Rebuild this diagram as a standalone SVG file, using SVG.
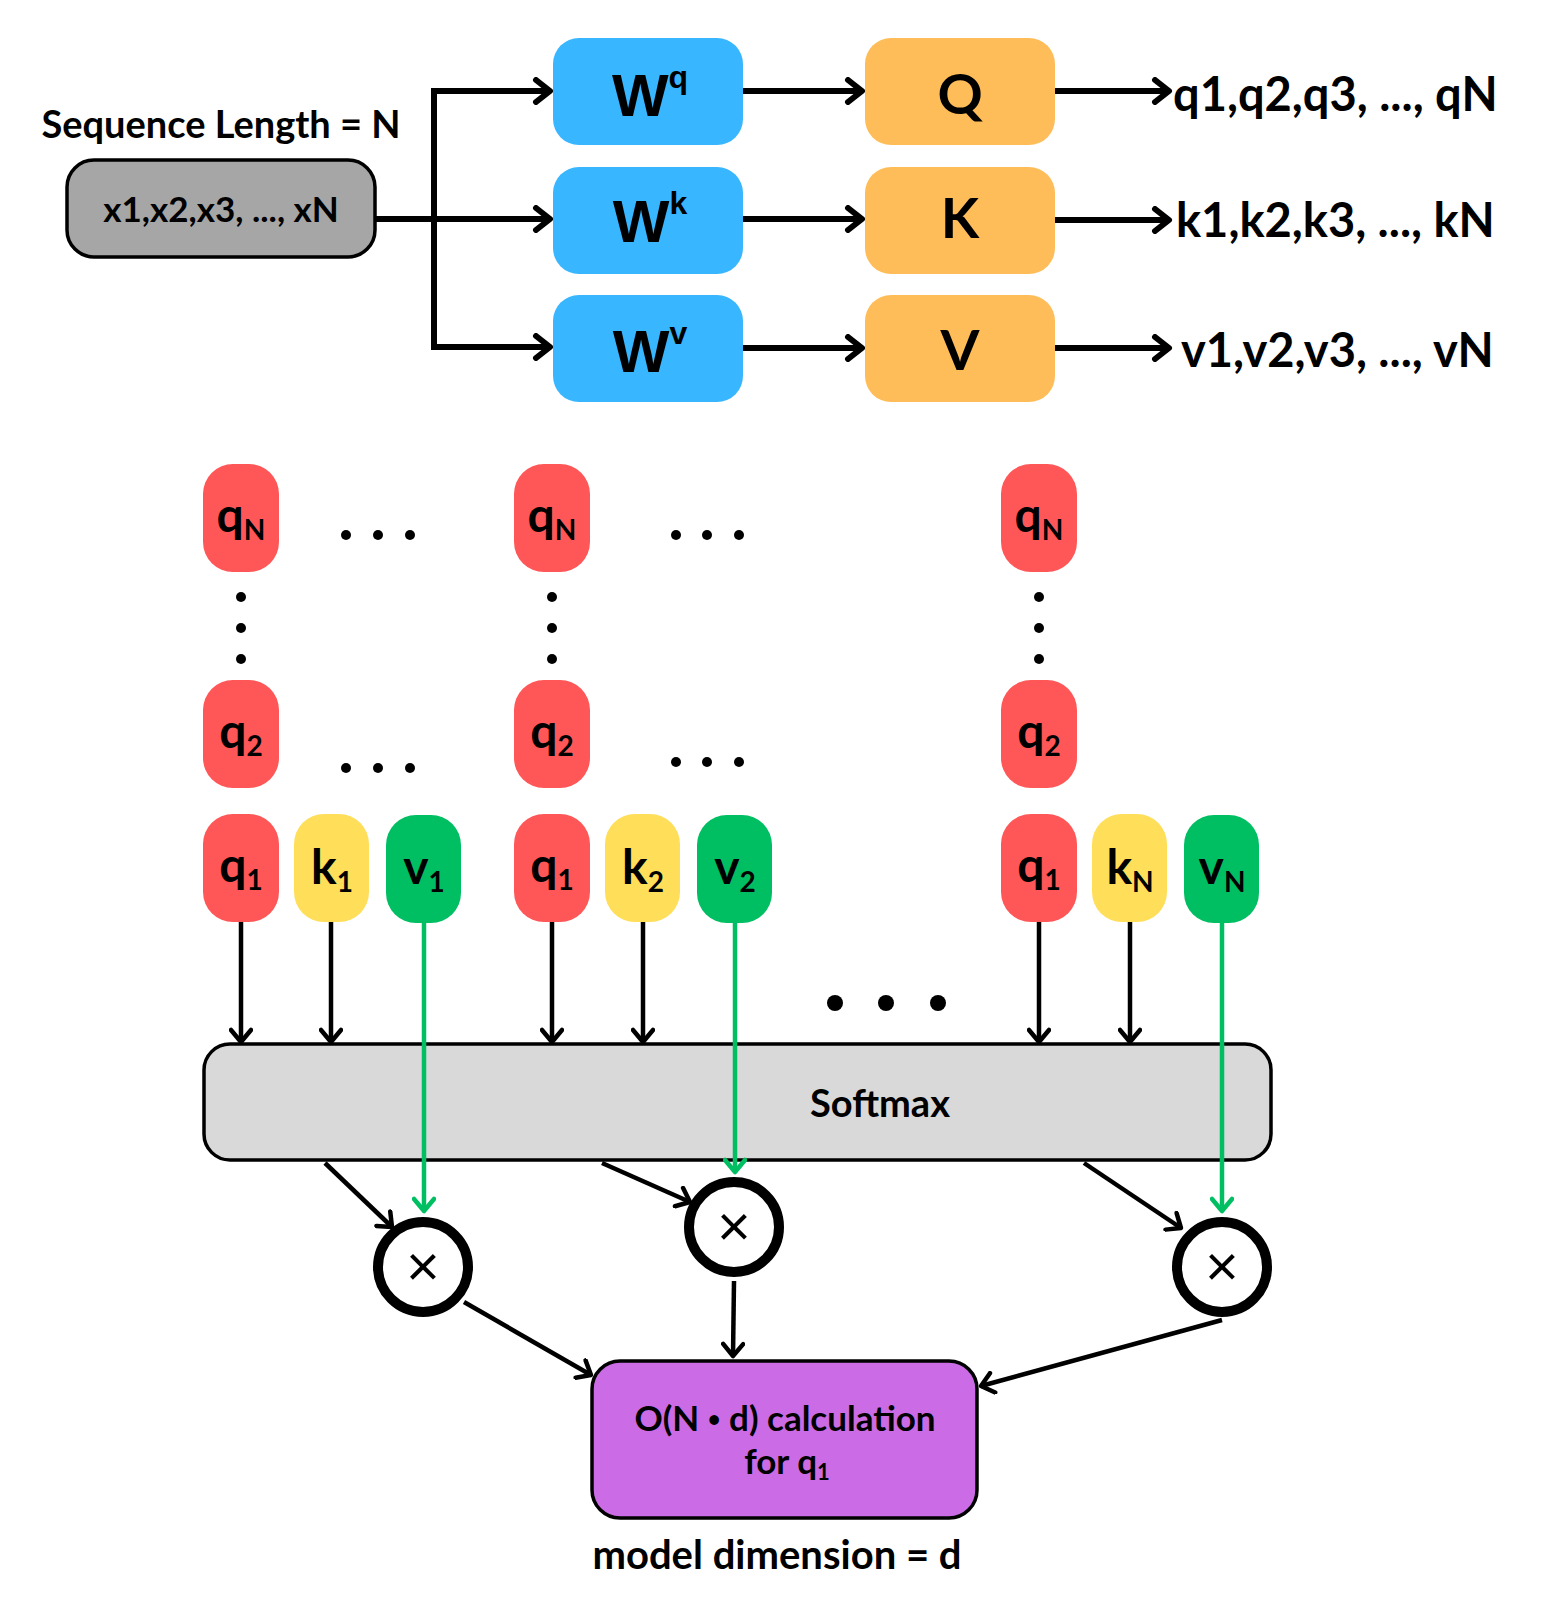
<svg xmlns="http://www.w3.org/2000/svg" width="1549" height="1614" viewBox="0 0 1549 1614">
<style>
text{font-family:"Lato","Noto Sans",sans-serif;font-weight:bold;fill:#000}
.w{font-family:"Liberation Sans",Arial,sans-serif;font-size:60px}
.big{font-family:"Lato",sans-serif;font-size:56px}
.out{font-size:47px}
.pl{font-size:48px}
.sub{font-size:28px}
.mul{font-family:"Liberation Sans",Arial,sans-serif;font-weight:normal;font-size:58px}
.conn{fill:none;stroke:#000;stroke-width:4.5}
.top{fill:none;stroke:#000;stroke-width:6}
.gr{fill:none;stroke:#00bf63;stroke-width:4.5}
.blue{fill:#38b6ff}
.org{fill:#ffbd59}
.red{fill:#ff5757}
.yel{fill:#ffde59}
.grn{fill:#00bf63}
.dot{fill:#000}
.circ{fill:#fff;stroke:#000;stroke-width:10}
</style>
<defs>
<marker id="ahT" viewBox="-20 -14 24 28" refX="0" refY="0" markerWidth="24" markerHeight="28" markerUnits="userSpaceOnUse" orient="auto">
<path d="M-14 -11 L0 0 L-14 11" fill="none" stroke="#000" stroke-width="6" stroke-linecap="round" stroke-linejoin="round"/>
</marker>
<marker id="ah" viewBox="-15 -12 18 24" refX="0" refY="0" markerWidth="18" markerHeight="24" markerUnits="userSpaceOnUse" orient="auto">
<path d="M-12 -10 L0 0 L-12 10" fill="none" stroke="#000" stroke-width="4.5" stroke-linecap="round" stroke-linejoin="round"/>
</marker>
<marker id="ahg" viewBox="-15 -12 18 24" refX="0" refY="0" markerWidth="18" markerHeight="24" markerUnits="userSpaceOnUse" orient="auto">
<path d="M-12 -10 L0 0 L-12 10" fill="none" stroke="#00bf63" stroke-width="4.5" stroke-linecap="round" stroke-linejoin="round"/>
</marker>
</defs>
<rect width="1549" height="1614" fill="#fff"/>

<g id="connectors">
<path class="top" d="M375 219 H550" marker-end="url(#ahT)"/>
<path class="top" d="M434 219 V91 H550" marker-end="url(#ahT)"/>
<path class="top" d="M434 219 V347 H550" marker-end="url(#ahT)"/>
<path class="top" d="M743 91 H862" marker-end="url(#ahT)"/>
<path class="top" d="M743 219 H862" marker-end="url(#ahT)"/>
<path class="top" d="M743 348 H862" marker-end="url(#ahT)"/>
<path class="top" d="M1055 91 H1169" marker-end="url(#ahT)"/>
<path class="top" d="M1055 220 H1169" marker-end="url(#ahT)"/>
<path class="top" d="M1055 348 H1169" marker-end="url(#ahT)"/>

<path class="conn" d="M241 922 V1042" marker-end="url(#ah)"/>
<path class="conn" d="M331 922 V1042" marker-end="url(#ah)"/>
<path class="conn" d="M552 922 V1042" marker-end="url(#ah)"/>
<path class="conn" d="M643 922 V1042" marker-end="url(#ah)"/>
<path class="conn" d="M1039 922 V1042" marker-end="url(#ah)"/>
<path class="conn" d="M1130 922 V1042" marker-end="url(#ah)"/>

<path class="conn" d="M325 1163 L392 1227" marker-end="url(#ah)"/>
<path class="conn" d="M602 1163 L690 1202" marker-end="url(#ah)"/>
<path class="conn" d="M1084 1163 L1181 1228" marker-end="url(#ah)"/>

<path class="conn" d="M464 1302 L591 1375" marker-end="url(#ah)"/>
<path class="conn" d="M734 1281 L733 1356" marker-end="url(#ah)"/>
<path class="conn" d="M1222 1320 L981 1386" marker-end="url(#ah)"/>
</g>

<g id="seq-label"><text x="221" y="138" font-size="38" text-anchor="middle">Sequence Length = N</text></g>
<g id="input">
<rect x="67" y="160" width="308" height="97" rx="27" fill="#a6a6a6" stroke="#000" stroke-width="3.5"/>
<text x="221" y="222" font-size="35" text-anchor="middle">x1,x2,x3, ..., xN</text>
</g>

<g id="wq"><rect class="blue" x="553" y="38" width="190" height="107" rx="26"/>
<text class="w" x="650" y="116" text-anchor="middle">W<tspan font-size="32" dy="-28">q</tspan></text></g>
<g id="wk"><rect class="blue" x="553" y="167" width="190" height="107" rx="26"/>
<text class="w" x="650" y="242" text-anchor="middle">W<tspan font-size="32" dy="-28">k</tspan></text></g>
<g id="wv"><rect class="blue" x="553" y="295" width="190" height="107" rx="26"/>
<text class="w" x="650" y="372" text-anchor="middle">W<tspan font-size="32" dy="-28">v</tspan></text></g>

<g id="Q"><rect class="org" x="865" y="38" width="190" height="107" rx="26"/>
<text class="big" x="960" y="114" text-anchor="middle">Q</text></g>
<g id="K"><rect class="org" x="865" y="167" width="190" height="107" rx="26"/>
<text class="big" x="960" y="238" text-anchor="middle">K</text></g>
<g id="V"><rect class="org" x="865" y="295" width="190" height="107" rx="26"/>
<text class="big" x="960" y="370" text-anchor="middle">V</text></g>

<g id="q-out"><text class="out" x="1173" y="111">q1,q2,q3, ..., qN</text></g>
<g id="k-out"><text class="out" x="1176" y="237">k1,k2,k3, ..., kN</text></g>
<g id="v-out"><text class="out" x="1181" y="367">v1,v2,v3, ..., vN</text></g>

<!-- column 1 -->
<g id="c1-qN"><rect class="red" x="203" y="464" width="76" height="108" rx="30"/><text class="pl" x="241" y="532" text-anchor="middle">q<tspan class="sub" dy="8">N</tspan></text></g>
<g id="c1-q2"><rect class="red" x="203" y="680" width="76" height="108" rx="30"/><text class="pl" x="241" y="748" text-anchor="middle">q<tspan class="sub" dy="8">2</tspan></text></g>
<g id="c1-q1"><rect class="red" x="203" y="814" width="76" height="108" rx="30"/><text class="pl" x="241" y="882" text-anchor="middle">q<tspan class="sub" dy="8">1</tspan></text></g>
<g id="c1-k1"><rect class="yel" x="294" y="814" width="75" height="108" rx="30"/><text class="pl" x="332" y="884" text-anchor="middle">k<tspan class="sub" dy="8">1</tspan></text></g>
<g id="c1-v1"><rect class="grn" x="386" y="815" width="75" height="108" rx="30"/><text class="pl" x="424" y="884" text-anchor="middle">v<tspan class="sub" dy="8">1</tspan></text></g>

<!-- column 2 -->
<g id="c2-qN"><rect class="red" x="514" y="464" width="76" height="108" rx="30"/><text class="pl" x="552" y="532" text-anchor="middle">q<tspan class="sub" dy="8">N</tspan></text></g>
<g id="c2-q2"><rect class="red" x="514" y="680" width="76" height="108" rx="30"/><text class="pl" x="552" y="748" text-anchor="middle">q<tspan class="sub" dy="8">2</tspan></text></g>
<g id="c2-q1"><rect class="red" x="514" y="814" width="76" height="108" rx="30"/><text class="pl" x="552" y="882" text-anchor="middle">q<tspan class="sub" dy="8">1</tspan></text></g>
<g id="c2-k2"><rect class="yel" x="605" y="814" width="75" height="108" rx="30"/><text class="pl" x="643" y="884" text-anchor="middle">k<tspan class="sub" dy="8">2</tspan></text></g>
<g id="c2-v2"><rect class="grn" x="697" y="815" width="75" height="108" rx="30"/><text class="pl" x="735" y="884" text-anchor="middle">v<tspan class="sub" dy="8">2</tspan></text></g>

<!-- column 3 -->
<g id="c3-qN"><rect class="red" x="1001" y="464" width="76" height="108" rx="30"/><text class="pl" x="1039" y="532" text-anchor="middle">q<tspan class="sub" dy="8">N</tspan></text></g>
<g id="c3-q2"><rect class="red" x="1001" y="680" width="76" height="108" rx="30"/><text class="pl" x="1039" y="748" text-anchor="middle">q<tspan class="sub" dy="8">2</tspan></text></g>
<g id="c3-q1"><rect class="red" x="1001" y="814" width="76" height="108" rx="30"/><text class="pl" x="1039" y="882" text-anchor="middle">q<tspan class="sub" dy="8">1</tspan></text></g>
<g id="c3-kN"><rect class="yel" x="1092" y="814" width="75" height="108" rx="30"/><text class="pl" x="1130" y="884" text-anchor="middle">k<tspan class="sub" dy="8">N</tspan></text></g>
<g id="c3-vN"><rect class="grn" x="1184" y="815" width="75" height="108" rx="30"/><text class="pl" x="1222" y="884" text-anchor="middle">v<tspan class="sub" dy="8">N</tspan></text></g>

<g id="ellipses">
<circle class="dot" cx="241" cy="597" r="5"/><circle class="dot" cx="241" cy="628" r="5"/><circle class="dot" cx="241" cy="659" r="5"/>
<circle class="dot" cx="552" cy="597" r="5"/><circle class="dot" cx="552" cy="628" r="5"/><circle class="dot" cx="552" cy="659" r="5"/>
<circle class="dot" cx="1039" cy="597" r="5"/><circle class="dot" cx="1039" cy="628" r="5"/><circle class="dot" cx="1039" cy="659" r="5"/>
<circle class="dot" cx="346" cy="535" r="5"/><circle class="dot" cx="378" cy="535" r="5"/><circle class="dot" cx="410" cy="535" r="5"/>
<circle class="dot" cx="676" cy="535" r="5"/><circle class="dot" cx="707" cy="535" r="5"/><circle class="dot" cx="739" cy="535" r="5"/>
<circle class="dot" cx="346" cy="768" r="5"/><circle class="dot" cx="378" cy="768" r="5"/><circle class="dot" cx="410" cy="768" r="5"/>
<circle class="dot" cx="676" cy="762" r="5"/><circle class="dot" cx="707" cy="762" r="5"/><circle class="dot" cx="739" cy="762" r="5"/>
<circle class="dot" cx="835" cy="1003" r="8"/><circle class="dot" cx="886" cy="1003" r="8"/><circle class="dot" cx="938" cy="1003" r="8"/>
</g>

<g id="softmax">
<rect x="204" y="1044" width="1067" height="116" rx="26" fill="#d9d9d9" stroke="#000" stroke-width="3.5"/>
<text x="880" y="1117" font-size="38" text-anchor="middle">Softmax</text>
</g>

<g id="green-connectors">
<path class="gr" d="M424 923 V1211" marker-end="url(#ahg)"/>
<path class="gr" d="M735 923 V1172" marker-end="url(#ahg)"/>
<path class="gr" d="M1222 923 V1211" marker-end="url(#ahg)"/>
</g>

<g id="mul1"><circle class="circ" cx="423" cy="1267" r="45"/><text class="mul" x="423" y="1286" text-anchor="middle">×</text></g>
<g id="mul2"><circle class="circ" cx="734" cy="1227" r="45"/><text class="mul" x="734" y="1246" text-anchor="middle">×</text></g>
<g id="mul3"><circle class="circ" cx="1222" cy="1267" r="45"/><text class="mul" x="1222" y="1286" text-anchor="middle">×</text></g>

<g id="result">
<rect x="592" y="1361" width="385" height="157" rx="28" fill="#cb6ce6" stroke="#000" stroke-width="3.5"/>
<text x="785" y="1431" font-size="35" text-anchor="middle">O(N <tspan font-size="22" dy="-4">•</tspan><tspan dy="4"> d) calculation</tspan></text>
<text x="787" y="1474" font-size="35" text-anchor="middle">for q<tspan font-size="22" dy="6">1</tspan></text>
</g>

<g id="dim-label"><text x="777" y="1569" font-size="40" text-anchor="middle">model dimension = d</text></g>
</svg>
